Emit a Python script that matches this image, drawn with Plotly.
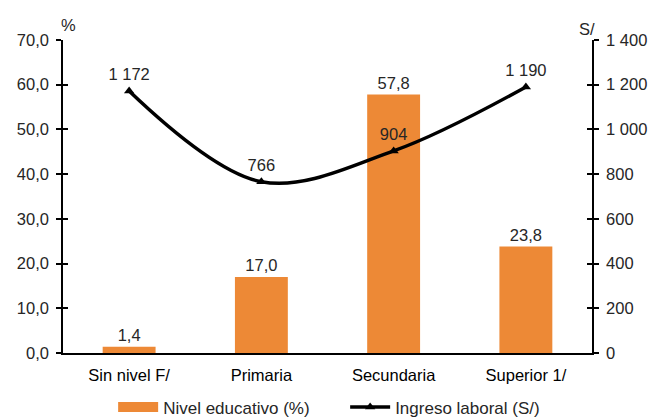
import plotly.graph_objects as go

categories = ["Sin nivel F/", "Primaria", "Secundaria", "Superior 1/"]
nivel_pct = [1.4, 17.0, 57.8, 23.8]
ingreso = [1172, 766, 904, 1190]

left_ticks = [0, 10, 20, 30, 40, 50, 60, 70]
right_ticks = [0, 200, 400, 600, 800, 1000, 1200, 1400]

FONT = "Liberation Sans, Arial, sans-serif"
ORANGE = "#ED8936"
FS = 16.5

fig = go.Figure()
fig.add_trace(go.Bar(
    x=categories, y=nivel_pct, name="Nivel educativo (%)", showlegend=False,
    marker=dict(color=ORANGE, line=dict(width=0)), width=0.4,
    text=nivel_pct, texttemplate="%{y:.1f}", textposition="outside",
    textfont=dict(size=FS, color="#262626", family=FONT), cliponaxis=False,
    yaxis="y",
))
# legend proxy for bars (wide rectangle swatch)
fig.add_trace(go.Scatter(
    x=[categories[0]], y=[None], name="Nivel educativo (%)", mode="lines",
    line=dict(color=ORANGE, width=10), yaxis="y", hoverinfo="skip",
))
fig.add_trace(go.Scatter(
    x=categories, y=ingreso, name="Ingreso laboral (S/)", mode="lines+markers+text",
    line=dict(color="black", width=3.5, shape="spline", smoothing=1.0),
    marker=dict(symbol="triangle-up", size=9, color="black"),
    text=ingreso, texttemplate="%{y:,d}", textposition="top center",
    textfont=dict(size=FS, color="#262626", family=FONT), cliponaxis=False,
    yaxis="y2",
))

axis_common = dict(showgrid=False, zeroline=False, showline=True, linecolor="black",
                   linewidth=1.5, ticks="outside", ticklen=5, tickcolor="black", tickwidth=1.5,
                   automargin=False, ticklabelstandoff=4,
                   tickfont=dict(size=FS, color="#262626", family=FONT))

fig.update_layout(
    width=654, height=418,
    margin=dict(l=63, r=62, t=40, b=65),
    plot_bgcolor="white", paper_bgcolor="white",
    separators=", ",
    font=dict(family=FONT, size=FS, color="#262626"),
    bargap=0.6,
    xaxis=dict(range=[-0.5, 3.5], showgrid=False, showline=True, linecolor="black",
               linewidth=1.5, ticks="", automargin=False, ticklabelstandoff=6,
               tickfont=dict(size=FS, color="black", family=FONT)),
    yaxis=dict(range=[0, 70], tickvals=left_ticks, tickformat=".1f", **axis_common),
    yaxis2=dict(range=[0, 1400], tickvals=right_ticks, tickformat=",d", overlaying="y",
                side="right", **axis_common),
    yaxis3=dict(range=[0, 70], tickvals=left_ticks, overlaying="y", side="left",
                showticklabels=False, ticks="inside", ticklen=5, tickcolor="black",
                tickwidth=1.5, showgrid=False, zeroline=False, showline=False),
    yaxis4=dict(range=[0, 1400], tickvals=right_ticks, overlaying="y", side="right",
                showticklabels=False, ticks="inside", ticklen=5, tickcolor="black",
                tickwidth=1.5, showgrid=False, zeroline=False, showline=False),
    legend=dict(orientation="h", x=0.173, xanchor="left", xref="container",
                y=0.025, yanchor="middle", yref="container",
                font=dict(size=17, color="#262626", family=FONT), itemwidth=40,
                entrywidth=177, entrywidthmode="pixels",
                traceorder="normal", tracegroupgap=0, bgcolor="rgba(0,0,0,0)"),
    annotations=[
        dict(text="%", xref="paper", yref="paper", x=0.01, y=1, xanchor="center",
             yanchor="bottom", yshift=4, showarrow=False, font=dict(size=FS, color="#262626")),
        dict(text="S/", xref="paper", yref="paper", x=0.99, y=1, xanchor="center",
             yanchor="bottom", yshift=0, showarrow=False, font=dict(size=FS, color="#262626")),
    ],
)
fig.add_trace(go.Scatter(x=[categories[0]], y=[None], yaxis="y3", showlegend=False, hoverinfo="skip"))
fig.add_trace(go.Scatter(x=[categories[0]], y=[None], yaxis="y4", showlegend=False, hoverinfo="skip"))

fig.write_html("out.html", config={"displayModeBar": False},
               post_script="document.body.style.margin='0';document.body.style.overflow='hidden';")
